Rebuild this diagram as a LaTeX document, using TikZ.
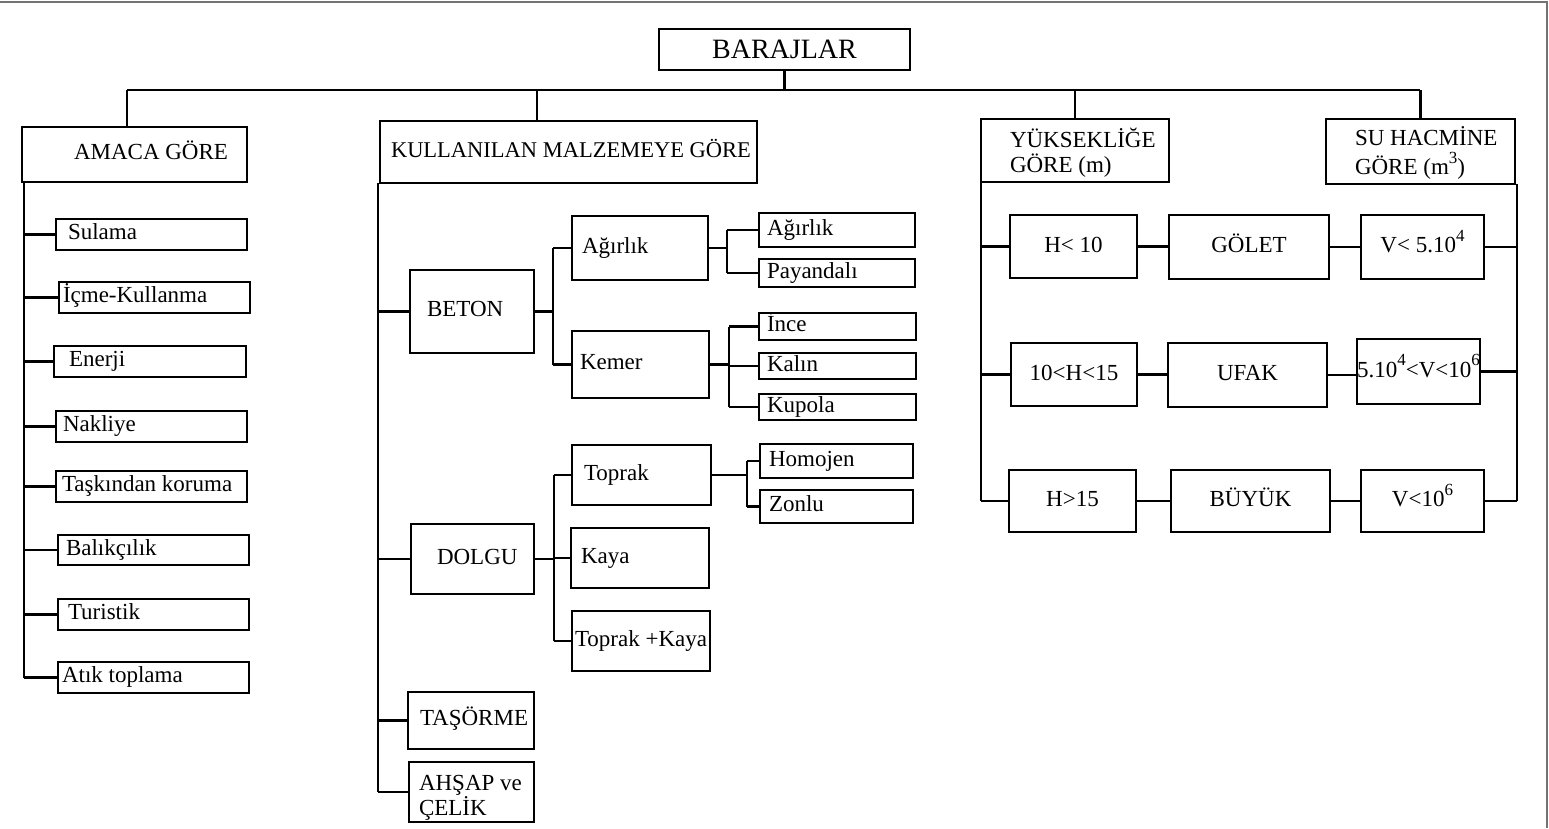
\documentclass[tikz,border=0pt]{standalone}
\usepackage{fontspec}
\setmainfont{Liberation Serif}
\newcommand\tf{\fontsize{23}{23}\selectfont}
\newcommand\sups[1]{\raisebox{0.5em}{\fontsize{17}{17}\selectfont #1}}
\tikzset{
  box/.style={draw, line width=2.1pt, inner sep=0pt, outer sep=0pt, font=\tf},
  one/.style={text height=16pt, text depth=5pt},
  txt/.style={inner sep=0pt, outer sep=0pt, font=\tf},
  conn/.style={line width=2.1pt},
  frame/.style={line width=1.6pt, draw=black!55}
}
% left-aligned single-line box: name, x1, y1, x2, y2, indent, text
\newcommand\bxl[7]{%
  \pgfmathsetmacro\bxw{#4-#2}\pgfmathsetmacro\bxh{#5-#3}%
  \node[box, anchor=north west, minimum width=\bxw pt, minimum height=\bxh pt] (#1) at (#2,#3) {};
  \node[txt, anchor=base west] (#1-t) at ([xshift=#6pt, yshift=-5pt]#1.west) {#7};}
% left-aligned two-line box: name, x1, y1, x2, y2, indent, first baseline below top, text
\newcommand\bxt[8]{%
  \pgfmathsetmacro\bxw{#4-#2}\pgfmathsetmacro\bxh{#5-#3}%
  \node[box, anchor=north west, minimum width=\bxw pt, minimum height=\bxh pt] (#1) at (#2,#3) {};
  \node[txt, anchor=base west] (#1-t) at ([xshift=#6pt, yshift=-#7pt]#1.north west)
     {\begin{tabular}[t]{@{}l@{}}#8\end{tabular}};}
% centered single-line box: name, x1, y1, x2, y2, text
\newcommand\bxc[6]{%
  \pgfmathsetmacro\bxw{#4-#2}\pgfmathsetmacro\bxh{#5-#3}%
  \node[box, one, anchor=north west, minimum width=\bxw pt, minimum height=\bxh pt] (#1) at (#2,#3) {#6};}
\begin{document}
\begin{tikzpicture}[x=1pt, y=-1pt]
\useasboundingbox (0,0) rectangle (1549,828);
\draw[frame] (0,2) -- (1547,2) -- (1547,828);

% top level
\node[box, anchor=north west, minimum width=251pt, minimum height=41pt,
      font=\fontsize{28}{30}\selectfont] (barajlar) at (659,29) {BARAJLAR};

\bxl{amaca}{22}{127}{247}{182}{52}{AMACA GÖRE}
\node[box, anchor=north west, minimum width=377pt, minimum height=62pt] (kull) at (380,121) {};
\node[txt, anchor=base west, font=\fontsize{22.5}{23}\selectfont] (kull-t) at ([xshift=11pt, yshift=-5pt]kull.west) {KULLANILAN MALZEMEYE GÖRE};
\bxt{yuk}{981}{119}{1169}{182}{29}{28}{YÜKSEKLİĞE\\GÖRE (m)}
\bxt{su}{1326}{119}{1515}{184}{29}{26}{SU HACMİNE\\GÖRE (m\sups{3})}

% AMACA GÖRE children
\bxl{sulama}{56}{219}{247}{250}{12}{Sulama}
\bxl{icme}{59}{282}{250}{313}{4}{İçme-Kullanma}
\bxl{enerji}{54}{346}{246}{377}{15}{Enerji}
\bxl{nakliye}{56}{411}{247}{442}{7}{Nakliye}
\bxl{taskin}{56}{471}{247}{502}{6}{Taşkından koruma}
\bxl{balik}{58}{535}{249}{565}{8}{Balıkçılık}
\bxl{turist}{58}{599}{249}{630}{10}{Turistik}
\bxl{atik}{58}{662}{249}{693}{4}{Atık toplama}

% KULLANILAN MALZEMEYE GÖRE children
\bxl{beton}{410}{270}{534}{353}{17}{BETON}
\bxl{agirlik}{572}{216}{708}{280}{10}{Ağırlık}
\bxl{kemer}{572}{331}{709}{398}{8}{Kemer}
\bxl{agir2}{759}{213}{915}{247}{8}{Ağırlık}
\bxl{payan}{759}{259}{915}{287}{8}{Payandalı}
\bxl{ince}{759}{313}{916}{340}{8}{İnce}
\bxl{kalin}{759}{353}{916}{379}{8}{Kalın}
\bxl{kupola}{759}{394}{916}{420}{8}{Kupola}
\bxl{dolgu}{411}{524}{534}{594}{26}{DOLGU}
\bxl{toprak}{572}{445}{711}{505}{12}{Toprak}
\bxl{kaya}{571}{528}{709}{588}{10}{Kaya}
\bxl{tk}{572}{611}{710}{671}{3}{Toprak +Kaya}
\bxl{homojen}{760}{444}{913}{478}{9}{Homojen}
\bxl{zonlu}{760}{490}{913}{523}{9}{Zonlu}
\bxl{tasorme}{408}{692}{534}{749}{12}{TAŞÖRME}
\bxt{ahsap}{409}{762}{534}{822}{10}{28}{AHŞAP ve\\ÇELİK}

% height / volume rows
\bxc{h1}{1010}{215}{1137}{278}{H< 10}
\bxc{golet}{1169}{215}{1329}{279}{GÖLET}
\bxc{v1}{1361}{215}{1484}{279}{V< 5.10\sups{4}}
\bxc{h2}{1011}{343}{1137}{406}{10<H<15}
\bxc{ufak}{1168}{343}{1327}{407}{UFAK}
\bxc{v2}{1357}{339}{1480}{404}{5.10\sups{4}<V<10\sups{6}}
\bxc{h3}{1009}{470}{1136}{532}{H>15}
\bxc{buyuk}{1171}{470}{1330}{532}{BÜYÜK}
\bxc{v3}{1361}{470}{1484}{532}{V<10\sups{6}}

% top bus
\coordinate (bl) at (127,90);
\coordinate (bk) at (537,90);
\coordinate (br) at (1420,90);
\draw[conn] (barajlar.south) -- (barajlar.south |- bl);
\draw[conn] (bl) -- (br);
\draw[conn] (bl) -- (bl |- amaca.north);
\draw[conn] (bk) -- (bk |- kull.north);
\draw[conn] (yuk.north) -- (yuk.north |- bl);
\draw[conn] (su.north) -- (su.north |- bl);

% left trunk
\coordinate (lt) at (24,182);
\draw[conn] (lt) -- (lt |- atik.west);
\foreach \n in {sulama,icme,enerji,nakliye,taskin,balik,turist,atik}
  \draw[conn] (lt |- \n.west) -- (\n.west);

% middle trunk
\coordinate (mt) at (378,183);
\draw[conn] (mt) -- (mt |- ahsap.west);
\foreach \n in {beton,dolgu,tasorme,ahsap}
  \draw[conn] (mt |- \n.west) -- (\n.west);

% BETON branch
\coordinate (bb) at (553,0);
\draw[conn] (beton.east) -- (beton.east -| bb);
\draw[conn] (bb |- agirlik.west) -- (bb |- kemer.west);
\foreach \n in {agirlik,kemer} \draw[conn] (bb |- \n.west) -- (\n.west);
\coordinate (ab) at (727,0);
\draw[conn] (agirlik.east) -- (agirlik.east -| ab);
\draw[conn] (ab |- agir2.west) -- (ab |- payan.west);
\foreach \n in {agir2,payan} \draw[conn] (ab |- \n.west) -- (\n.west);
\coordinate (kb) at (729,0);
\draw[conn] (kemer.east) -- (kemer.east -| kb);
\draw[conn] (kb |- ince.west) -- (kb |- kupola.west);
\foreach \n in {ince,kalin,kupola} \draw[conn] (kb |- \n.west) -- (\n.west);

% DOLGU branch
\coordinate (db) at (554,0);
\draw[conn] (dolgu.east) -- (dolgu.east -| db);
\draw[conn] (db |- toprak.west) -- (db |- tk.west);
\foreach \n in {toprak,kaya,tk} \draw[conn] (db |- \n.west) -- (\n.west);
\coordinate (tb) at (747,0);
\draw[conn] (toprak.east) -- (toprak.east -| tb);
\draw[conn] (tb |- homojen.west) -- (tb |- zonlu.west);
\foreach \n in {homojen,zonlu} \draw[conn] (tb |- \n.west) -- (\n.west);

% right side
\coordinate (rt) at (981,182);
\draw[conn] (rt) -- (rt |- h3.west);
\foreach \n in {h1,h2,h3} \draw[conn] (rt |- \n.west) -- (\n.west);
\draw[conn] (h1.east) -- (h1.east -| golet.west);
\draw[conn] (golet.east) -- (golet.east -| v1.west);
\draw[conn] (h2.east) -- (h2.east -| ufak.west);
\draw[conn] (ufak.east) -- (ufak.east -| v2.west);
\draw[conn] (h3.east) -- (h3.east -| buyuk.west);
\draw[conn] (buyuk.east) -- (buyuk.east -| v3.west);
\coordinate (rr) at (1517,184);
\draw[conn] (rr) -- (rr |- v3.east);
\foreach \n in {v1,v2,v3} \draw[conn] (\n.east) -- (\n.east -| rr);
\end{tikzpicture}
\end{document}
